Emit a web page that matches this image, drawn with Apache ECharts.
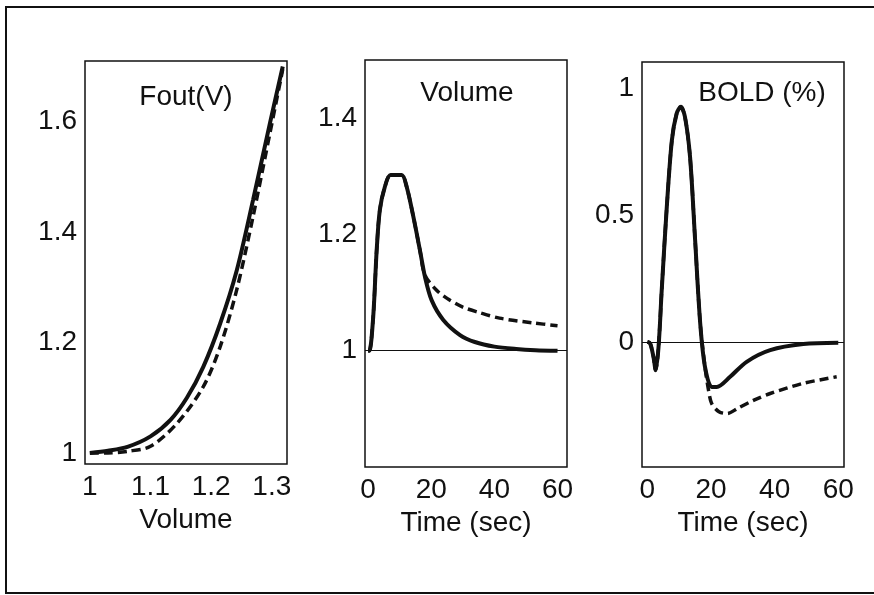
<!DOCTYPE html>
<html>
<head>
<meta charset="utf-8">
<script src="https://cdn.jsdelivr.net/npm/echarts@6/dist/echarts.min.js"></script>
<style>
  html, body { margin: 0; padding: 0; background: #fff; }
  #chart { width: 874px; height: 595px; }
</style>
</head>
<body>
<div id="chart"></div>
<script>
// panel 1: Fout(V) against volume
var foutVolume = [1.0, 1.03, 1.062, 1.1, 1.133, 1.16, 1.187, 1.215, 1.242, 1.269, 1.297, 1.318];
var foutSolid = [1.0, 1.004, 1.011, 1.03, 1.06, 1.10, 1.156, 1.235, 1.33, 1.458, 1.598, 1.70];
var foutDashVolume = [1.0, 1.03, 1.062, 1.1, 1.144, 1.187, 1.215, 1.242, 1.269, 1.297, 1.318];
var foutDashed = [1.0, 1.0, 1.003, 1.012, 1.054, 1.12, 1.193, 1.295, 1.428, 1.58, 1.695];

// panel 2: volume over time
var volTime = [0, 0.4, 1.6, 2.7, 3.7, 5.3, 7.1, 10.6, 12.2, 14.3, 16.4, 18.0, 20.1, 23.8, 29.1, 33.8, 40, 46.9, 53, 60];
var volSolid = [1.0, 1.0, 1.058, 1.173, 1.242, 1.282, 1.302, 1.302, 1.282, 1.231, 1.173, 1.127, 1.087, 1.053, 1.027, 1.015, 1.007, 1.003, 1.001, 1.0];
var volDashTime = [0, 0.4, 1.6, 2.7, 3.7, 5.3, 7.1, 10.6, 12.2, 14.3, 16.4, 18.0, 21.7, 25, 30, 35, 41.6, 52, 60];
var volDashed = [1.0, 1.0, 1.058, 1.173, 1.242, 1.282, 1.302, 1.302, 1.282, 1.231, 1.173, 1.13, 1.104, 1.09, 1.075, 1.066, 1.056, 1.048, 1.043];

// panel 3: BOLD signal (%) over time
var boldTime = [0, 0.85, 1.9, 2.6, 3.5, 4.5, 6.1, 7.7, 9.2, 10.5, 11.8, 13.4, 15, 16.6, 18.1, 20.2, 21.8, 26, 31.2, 38.6, 49, 60];
var boldSolid = [0, -0.006, -0.059, -0.112, -0.02, 0.204, 0.533, 0.796, 0.901, 0.927, 0.888, 0.73, 0.401, 0.073, -0.099, -0.178, -0.178, -0.138, -0.079, -0.033, -0.009, -0.004];
var boldDashTime = [0, 0.85, 1.9, 2.6, 3.5, 4.5, 6.1, 7.7, 9.2, 10.5, 11.8, 13.4, 15, 16.6, 18.1, 19.2, 20.2, 22.5, 25.1, 28.3, 33.5, 38.6, 49, 59.5];
var boldDashed = [0, -0.006, -0.059, -0.112, -0.02, 0.204, 0.533, 0.796, 0.901, 0.927, 0.888, 0.73, 0.401, 0.073, -0.099, -0.19, -0.243, -0.276, -0.283, -0.263, -0.23, -0.204, -0.164, -0.138];

var panelTitles = ['Fout(V)', 'Volume', 'BOLD (%)'];
var xNames = ['Volume', 'Time (sec)', 'Time (sec)'];
var xTicks = [[1, 1.1, 1.2, 1.3], [0, 20, 40, 60], [0, 20, 40, 60]];
var yTicks = [[1, 1.2, 1.4, 1.6], [1, 1.2, 1.4], [0, 0.5, 1]];

function pairs(xs, ys) {
  return xs.map(function (x, i) { return [x, ys[i]]; });
}

var font = '"Liberation Sans", Arial, Helvetica, sans-serif';
var ink = '#111';

var grids = [
  { left: 85, top: 61, width: 202, height: 403 },
  { left: 365, top: 60, width: 202, height: 407 },
  { left: 642, top: 62, width: 202, height: 405 }
];
var xRanges = [[0.992, 1.325], [-1, 63], [-1.7, 61.8]];
var yRanges = [[0.98, 1.71], [0.8, 1.5], [-0.494, 1.104]];
var titlePos = [[181, 78], [462, 74], [757, 74]];

var myChart = echarts.init(document.getElementById('chart'));

option = {
  backgroundColor: '#fff',
  animation: false,
  title: panelTitles.map(function (t, i) {
    return {
      text: t, left: titlePos[i][0], top: titlePos[i][1], textAlign: 'center',
      textStyle: { fontFamily: font, fontSize: 28, fontWeight: 'normal', color: ink }
    };
  }),
  graphic: [{
    type: 'rect',
    shape: { x: 6, y: 7, width: 880, height: 586 },
    style: { fill: null, stroke: ink, lineWidth: 2 }
  }],
  grid: grids.map(function (g) {
    return {
      left: g.left, top: g.top, width: g.width, height: g.height,
      show: true, borderColor: ink, borderWidth: 1.5, backgroundColor: '#fff'
    };
  }),
  xAxis: grids.map(function (g, i) {
    return {
      type: 'value', gridIndex: i, min: xRanges[i][0], max: xRanges[i][1],
      name: xNames[i], nameLocation: 'middle', nameGap: 42,
      nameTextStyle: { fontFamily: font, fontSize: 28, color: ink },
      axisLine: { show: false }, axisTick: { show: false }, splitLine: { show: false },
      axisLabel: {
        customValues: xTicks[i], margin: 9, showMinLabel: true, showMaxLabel: true,
        fontFamily: font, fontSize: 28, color: ink
      }
    };
  }),
  yAxis: grids.map(function (g, i) {
    return {
      type: 'value', gridIndex: i, min: yRanges[i][0], max: yRanges[i][1],
      axisLine: { show: false }, axisTick: { show: false }, splitLine: { show: false },
      axisLabel: {
        customValues: yTicks[i], margin: 8,
        fontFamily: font, fontSize: 28, color: ink
      }
    };
  }),
  series: [
    {
      type: 'line', xAxisIndex: 0, yAxisIndex: 0, showSymbol: false, smooth: 0.3,
      data: pairs(foutDashVolume, foutDashed),
      lineStyle: { color: ink, width: 3.5, type: [9, 5] }
    },
    {
      type: 'line', xAxisIndex: 0, yAxisIndex: 0, showSymbol: false, smooth: 0.3,
      data: pairs(foutVolume, foutSolid),
      lineStyle: { color: ink, width: 4 }
    },
    {
      type: 'line', xAxisIndex: 1, yAxisIndex: 1, showSymbol: false, smooth: 0.3,
      data: pairs(volDashTime, volDashed),
      lineStyle: { color: ink, width: 3.5, type: [9, 5] },
      markLine: {
        silent: true, symbol: 'none', label: { show: false },
        lineStyle: { color: ink, width: 1.2, type: 'solid' },
        data: [{ yAxis: 1 }]
      }
    },
    {
      type: 'line', xAxisIndex: 1, yAxisIndex: 1, showSymbol: false, smooth: 0.3,
      data: pairs(volTime, volSolid),
      lineStyle: { color: ink, width: 4 }
    },
    {
      type: 'line', xAxisIndex: 2, yAxisIndex: 2, showSymbol: false, smooth: 0.3,
      data: pairs(boldDashTime, boldDashed),
      lineStyle: { color: ink, width: 3.5, type: [9, 5] },
      markLine: {
        silent: true, symbol: 'none', label: { show: false },
        lineStyle: { color: ink, width: 1.2, type: 'solid' },
        data: [{ yAxis: 0 }]
      }
    },
    {
      type: 'line', xAxisIndex: 2, yAxisIndex: 2, showSymbol: false, smooth: 0.3,
      data: pairs(boldTime, boldSolid),
      lineStyle: { color: ink, width: 4 }
    }
  ]
};

myChart.setOption(option);
</script>
</body>
</html>
